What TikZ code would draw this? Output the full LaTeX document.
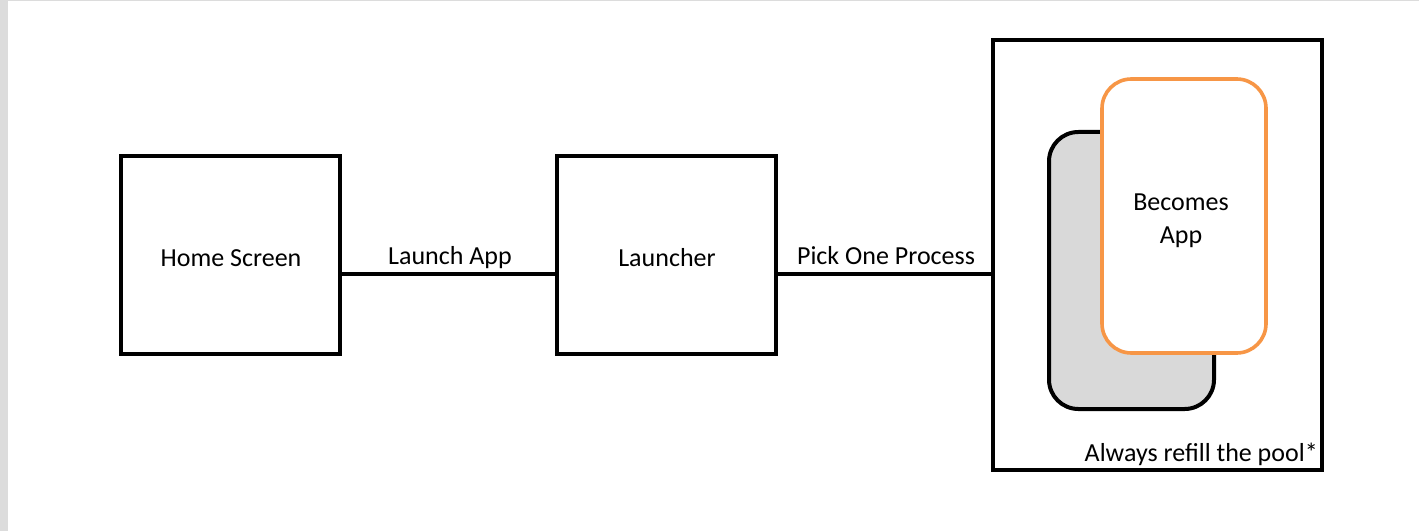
\documentclass[tikz,border=0pt]{standalone}
\usepackage{fontspec}
\setmainfont{Carlito}
\definecolor{edgegray}{HTML}{DCDCDC}
\definecolor{cardgray}{HTML}{D9D9D9}
\definecolor{orng}{HTML}{F79646}
\tikzset{
  box/.style={draw=black, line width=2.5pt, fill=white},
  conn/.style={draw=black, line width=3.5pt},
  lbl/.style={font=\fontsize{19.5}{22}\selectfont, text=black, inner sep=0pt},
}
\begin{document}
\begin{tikzpicture}[x=0.75pt,y=-0.75pt]
\useasboundingbox (0,0) rectangle (1419,531);
\fill[white] (0,0) rectangle (1419,531);
\fill[edgegray] (0,0) rectangle (8,531);
\fill[edgegray] (0,0) rectangle (1419,1.5);
% boxes
\draw[box] (121,156) rectangle (340,354);
\node[lbl] (home) at (231,258) {Home Screen};
\coordinate (homeR) at (340,274);
\draw[box] (557,156) rectangle (776,354);
\node[lbl] (launcher) at (667,258) {Launcher};
\coordinate (launL) at (557,274);
\coordinate (launR) at (776,274);
\draw[box] (993,40) rectangle (1322,470);
\coordinate (poolL) at (993,274);
% connectors
\draw[conn] (homeR) -- (launL);
\draw[conn] (launR) -- (poolL);
\node[lbl] (l1) at (450,258) {Launch App};
\node[lbl] (l2) at (886,256) {Pick One Process};
% cards
\draw[draw=black, fill=cardgray, line width=3pt, rounded corners=22pt] (1049,132) rectangle (1214,409);
\draw[draw=orng, fill=white, line width=2.7pt, rounded corners=22pt] (1102,79) rectangle (1266,353);
\node[lbl] (becomes) at (1181,202) {Becomes};
\node[lbl] (app) at (1181,237) {App};
\node[lbl, anchor=south east] (pool) at (1318,466) {Always refill the pool*};
\end{tikzpicture}
\end{document}
